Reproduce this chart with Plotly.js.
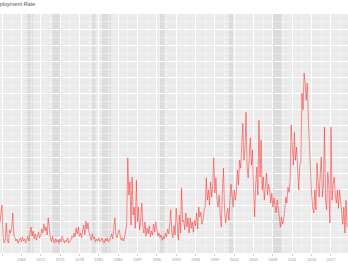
<!DOCTYPE html>
<html>
<head>
<meta charset="utf-8">
<script src="https://cdn.plot.ly/plotly-3.0.1.min.js"></script>
<style>
html,body{margin:0;padding:0;background:#fff;}
#chart{width:348px;height:268px;}
</style>
</head>
<body>
<div id="chart"></div>
<script>
// Bi-monthly observations starting September 1965
var startYear = 1965;
var startMonth = 9;
var stepMonths = 2;
var rateValues = [
  3.75,4.75,6.0,1.9,1.25,1.6,3.75,1.5,1.25,2.9,
  2.5,3.1,5.0,2.25,1.9,1.5,1.75,1.25,1.6,
  1.9,1.4,2.0,1.5,1.75,1.25,1.6,2.1,1.5,
  2.5,3.25,2.1,2.75,1.75,2.4,1.6,2.0,2.6,1.9,
  2.25,3.0,2.5,3.6,2.75,3.25,2.25,4.4,2.9,
  1.9,1.4,2.1,1.5,1.25,1.75,1.4,1.6,1.25,
  1.75,1.4,2.1,1.5,1.25,1.6,1.4,1.9,1.25,1.5,
  1.6,2.1,1.9,2.5,2.0,3.1,2.4,3.25,2.1,
  2.5,1.9,2.75,3.5,2.25,4.0,3.0,3.75,2.6,
  2.1,1.6,2.4,1.75,2.0,1.4,1.75,1.5,1.9,
  1.4,1.6,1.9,1.5,1.25,1.75,1.5,1.9,1.4,1.6,
  2.0,2.4,1.75,3.25,4.4,2.25,1.9,2.5,2.9,
  2.1,1.6,1.9,1.5,2.0,2.6,3.5,11.9,7.25,
  8.9,3.5,9.5,4.75,5.75,3.1,9.1,3.9,5.75,2.9,
  4.0,6.25,3.25,2.5,3.9,2.1,3.1,2.4,3.4,
  2.0,2.75,2.25,3.6,2.6,3.9,3.0,2.1,2.5,
  1.9,2.25,1.6,2.1,1.75,2.5,2.0,3.0,2.4,
  3.6,5.4,2.6,1.9,3.4,2.25,5.6,3.0,1.6,4.75,
  2.5,8.1,3.9,4.1,2.9,5.0,3.25,4.4,2.5,
  4.4,3.1,3.9,2.6,4.1,3.4,5.0,3.0,5.75,
  4.5,5.1,3.6,4.1,5.4,5.75,9.4,6.6,7.9,6.0,
  8.9,7.0,8.5,11.9,7.5,9.4,6.6,5.75,7.25,
  4.75,3.25,7.6,10.6,5.4,3.75,4.9,5.6,4.1,
  6.6,8.6,7.25,5.75,7.9,6.6,7.5,10.4,8.5,11.6,
  10.6,13.4,16.25,11.6,12.9,17.6,10.75,9.4,12.25,
  14.4,11.0,12.9,7.9,4.5,8.6,10.75,7.25,16.6,
  9.5,14.1,7.9,9.5,6.6,8.5,10.0,7.25,8.6,
  7.9,6.25,7.5,5.75,6.9,6.0,5.0,6.6,5.0,4.4,
  3.25,4.5,3.6,4.1,5.4,7.0,6.25,8.25,7.6,
  9.1,16.0,12.9,11.0,15.1,11.6,13.25,9.75,7.9,
  11.0,11.25,20.0,17.9,22.5,21.25,19.1,21.25,16.6,12.9,
  9.5,7.25,5.75,5.0,7.9,5.4,11.25,8.5,7.0,
  9.75,12.0,7.0,8.5,15.75,6.6,5.4,10.1,8.6,
  3.75,15.75,6.6,8.6,9.5,7.25,6.25,7.9,5.6,7.9,
  6.25,5.1,3.6,5.75,2.5,6.6,3.25
];
var tickYears = [1966,1969,1972,1975,1978,1981,1984,1987,1990,1993,1996,1999,2002,2005,2008,2011,2014,2017];
var recessionStarts = ['1969-12-01','1973-11-01','1980-01-01','1981-07-01','1990-07-01','2001-03-01','2007-12-01'];
var recessionEnds   = ['1970-11-01','1975-03-01','1980-07-01','1982-11-01','1991-03-01','2001-11-01','2009-06-01'];
var titleText = 'Unemployment Rate';

function pad(n){return (n<10?'0':'')+n;}
var dates = rateValues.map(function(_, i){
  var m = (startMonth - 1) + i*stepMonths;
  var y = startYear + Math.floor(m/12);
  return y + '-' + pad(m%12 + 1) + '-01';
});

var trace = {
  x: dates, y: rateValues, type: 'scatter', mode: 'lines',
  line: {color: 'rgba(255,30,30,0.72)', width: 0.7},
  hoverinfo: 'skip'
};

var shapes = recessionStarts.map(function(s, i){
  return {type:'rect', xref:'x', yref:'paper', x0:s, x1:recessionEnds[i], y0:0, y1:1,
          fillcolor:'#dcdcdc', line:{width:0}, layer:'below'};
});

var layout = {
  width: 348, height: 268,
  margin: {l:0, r:0, t:14, b:15, pad:0},
  paper_bgcolor: '#ffffff',
  plot_bgcolor: '#ebebeb',
  showlegend: false,
  xaxis: {
    type: 'date',
    range: ['1965-09-09', '2019-08-22'],
    tickvals: tickYears.map(function(y){return y + '-01-01';}),
    ticktext: tickYears.map(String),
    showgrid: true, gridcolor: '#ffffff', gridwidth: 1,
    minor: {dtick: 'M18', tick0: '1966-01-01', showgrid: true, gridcolor: '#f7f7f7', gridwidth: 0.6},
    ticks: 'outside', ticklen: 2, tickwidth: 0.6, tickcolor: '#aaaaaa',
    tickfont: {size: 4, color: '#999999', family: 'Liberation Sans'},
    zeroline: false, showline: false, fixedrange: true
  },
  yaxis: {
    range: [0, 29.9],
    dtick: 2,
    showgrid: true, gridcolor: '#ffffff', gridwidth: 1,
    minor: {dtick: 1, showgrid: true, gridcolor: '#f7f7f7', gridwidth: 0.6},
    showticklabels: false, ticks: '', zeroline: false, showline: false, fixedrange: true
  },
  shapes: shapes,
  annotations: [{
    text: titleText, xref: 'paper', yref: 'paper', x: 37/348, y: (253-4)/239,
    xanchor: 'right', yanchor: 'middle', showarrow: false,
    font: {size: 5.5, color: '#555555', family: 'Liberation Sans', style: 'italic'}
  }]
};

Plotly.newPlot('chart', [trace], layout, {staticPlot: true, displayModeBar: false});
</script>
</body>
</html>
